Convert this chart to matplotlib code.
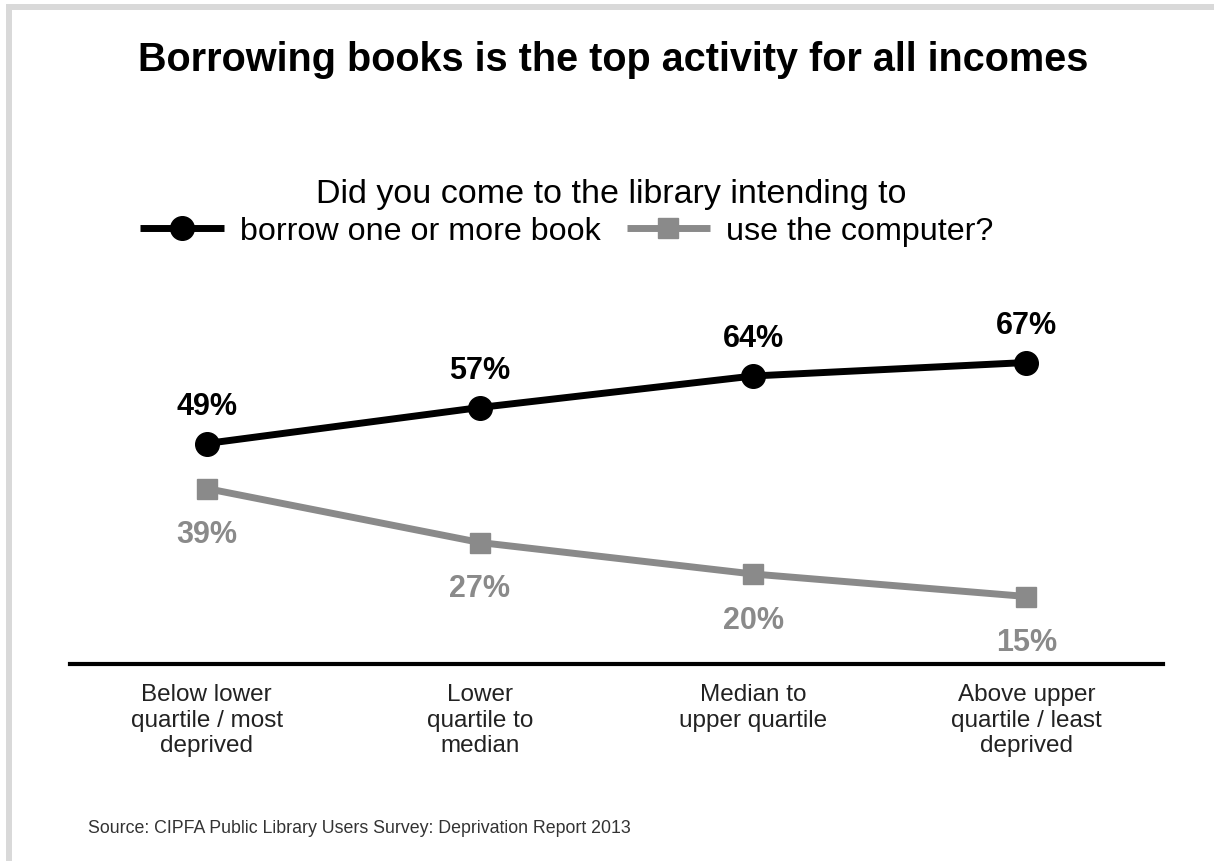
import matplotlib.pyplot as plt
from matplotlib.patches import Rectangle

plt.rcParams['font.family'] = ['Liberation Sans', 'DejaVu Sans']

# Data
groups = ["Below lower\nquartile / most\ndeprived",
          "Lower\nquartile to\nmedian",
          "Median to\nupper quartile",
          "Above upper\nquartile / least\ndeprived"]
borrow_books = [49, 57, 64, 67]
use_computer = [39, 27, 20, 15]

W, H = 1214, 862
fig = plt.figure(figsize=(W / 100, H / 100), dpi=100)
fig.patch.set_facecolor("white")

# light grey frame (top and left only)
fig.patches.append(Rectangle((6 / W, 1 - 11 / H), 1 - 6 / W, 6 / H,
                             transform=fig.transFigure, color="#d9d9d9", lw=0))
fig.patches.append(Rectangle((6 / W, 0), 6 / W, 1 - 5 / H,
                             transform=fig.transFigure, color="#d9d9d9", lw=0))

ax = fig.add_axes([70 / W, 1 - 665 / H, 1093 / W, 360 / H])
x = list(range(len(groups)))

grey = "#8a8a8a"
ax.plot(x, borrow_books, color="black", lw=5, marker="o", ms=17,
        label="borrow one or more book", clip_on=False, solid_capstyle="butt")
ax.plot(x, use_computer, color=grey, lw=5, marker="s", ms=15,
        label="use the computer?", clip_on=False, solid_capstyle="butt")

for xi, v in zip(x, borrow_books):
    ax.annotate(f"{v}%", (xi, v), xytext=(0, 27), textcoords="offset points",
                ha="center", va="center", fontsize=22, fontweight="bold")
for xi, v in zip(x, use_computer):
    ax.annotate(f"{v}%", (xi, v), xytext=(0, -33), textcoords="offset points",
                ha="center", va="center", fontsize=22, fontweight="bold",
                color=grey)

ax.set_xlim(-0.5, 3.5)
ax.set_ylim(0, 80)
ax.set_yticks([])
ax.set_xticks(x)
ax.set_xticklabels(groups, fontsize=17.5, linespacing=1.2, color="#222222")
ax.tick_params(axis="x", length=0, pad=14)
for s in ["top", "left", "right"]:
    ax.spines[s].set_visible(False)
ax.spines["bottom"].set_linewidth(3)

ax.legend(loc="center", bbox_to_anchor=(567 / W, 1 - 232 / H),
          bbox_transform=fig.transFigure, ncol=2, frameon=False,
          fontsize=23.2, handlelength=2.6, handletextpad=0.5,
          columnspacing=0.8, borderpad=0)

fig.text(611 / W, 1 - 203 / H, "Did you come to the library intending to",
         ha="center", va="baseline", fontsize=24.5)
fig.text(613 / W, 1 - 71 / H, "Borrowing books is the top activity for all incomes",
         ha="center", va="baseline", fontsize=28.5, fontweight="bold")
fig.text(88 / W, 1 - 829 / H,
         "Source: CIPFA Public Library Users Survey: Deprivation Report 2013",
         ha="left", va="center", fontsize=12.8, color="#333333")

fig.savefig("out.png", dpi=100)
